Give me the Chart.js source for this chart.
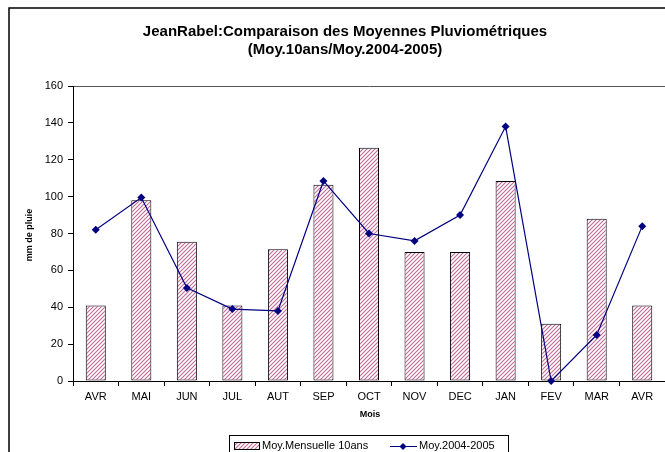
<!DOCTYPE html>
<html>
<head>
<meta charset="utf-8">
<script src="https://cdn.jsdelivr.net/npm/chart.js@4"></script>
<style>
  html, body { margin: 0; padding: 0; background: #fff; }
  #wrap { width: 665px; height: 452px; position: relative; }
</style>
</head>
<body>
<div id="wrap"><canvas id="pluieChart" width="665" height="452"></canvas></div>
<script>
// données
const mois = ['AVR', 'MAI', 'JUN', 'JUL', 'AUT', 'SEP', 'OCT', 'NOV', 'DEC', 'JAN', 'FEV', 'MAR', 'AVR'];
const moy10ans = [41, 98, 75.5, 41, 71.5, 106.5, 126.5, 70, 70, 108.5, 31, 88, 41];
const moy2004 = [82, 99.5, 50.5, 39, 38, 108.5, 80, 76, 90, 138, 0, 25, 84];
const yTicks = [0, 20, 40, 60, 80, 100, 120, 140, 160];

const FONT = "Arial, 'Liberation Sans', sans-serif";

// motif hachuré des barres
const makeHatch = () => {
  const c = document.createElement('canvas');
  c.width = 4; c.height = 4;
  const g = c.getContext('2d');
  g.fillStyle = '#fff';
  g.fillRect(0, 0, 4, 4);
  g.strokeStyle = '#c06a98';
  g.lineWidth = 1.1;
  g.beginPath();
  g.moveTo(-1, 5); g.lineTo(5, -1);
  g.moveTo(-1, 1); g.lineTo(1, -1);
  g.moveTo(3, 5); g.lineTo(5, 3);
  g.stroke();
  return g.createPattern(c, 'repeat');
};
const hatch = makeHatch();

// titres, légende, cadre
const decor = {
  id: 'decor',
  afterDraw(chart) {
    const ctx = chart.ctx;
    ctx.save();
    ctx.strokeStyle = '#000';
    ctx.lineWidth = 1.5;
    ctx.strokeRect(9, 8, 720, 520);

    ctx.fillStyle = '#000';
    ctx.textAlign = 'center';
    ctx.textBaseline = 'middle';
    ctx.font = 'bold 15px ' + FONT;
    ctx.fillText('JeanRabel:Comparaison des Moyennes Pluviométriques', 345, 32);
    ctx.fillText('(Moy.10ans/Moy.2004-2005)', 345, 50);

    ctx.font = 'bold 9px ' + FONT;
    ctx.fillText('Mois', 370, 415);
    ctx.save();
    ctx.translate(30, 235);
    ctx.rotate(-Math.PI / 2);
    ctx.fillText('mm de pluie', 0, 0);
    ctx.restore();

    // légende
    ctx.lineWidth = 1;
    ctx.strokeRect(229.5, 435.5, 279, 20);
    ctx.fillStyle = hatch;
    ctx.fillRect(234, 443, 25, 6);
    ctx.strokeRect(234.5, 442.5, 25, 7);
    ctx.fillStyle = '#000';
    ctx.textAlign = 'left';
    ctx.font = '11px ' + FONT;
    ctx.fillText('Moy.Mensuelle 10ans', 262, 446);
    ctx.strokeStyle = '#000080';
    ctx.beginPath();
    ctx.moveTo(390, 446.5); ctx.lineTo(417, 446.5);
    ctx.stroke();
    ctx.fillStyle = '#000080';
    ctx.beginPath();
    ctx.moveTo(403, 443); ctx.lineTo(406.5, 446.5); ctx.lineTo(403, 450); ctx.lineTo(399.5, 446.5);
    ctx.closePath(); ctx.fill();
    ctx.fillStyle = '#000';
    ctx.fillText('Moy.2004-2005', 419, 446);
    ctx.restore();
  }
};

new Chart(document.getElementById('pluieChart'), {
  type: 'bar',
  data: {
    labels: mois,
    datasets: [{
      type: 'line',
      label: 'Moy.2004-2005',
      data: moy2004,
      borderColor: '#000080',
      backgroundColor: '#000080',
      borderWidth: 1.2,
      pointStyle: 'rectRot',
      pointRadius: 4,
      pointBorderWidth: 0,
      tension: 0,
      clip: false,
      order: 0
    }, {
      label: 'Moy.Mensuelle 10ans',
      data: moy10ans,
      backgroundColor: hatch,
      borderColor: '#000',
      borderWidth: 1,
      borderSkipped: false,
      categoryPercentage: 0.44,
      barPercentage: 1,
      order: 1
    }]
  },
  options: {
    responsive: false,
    animation: false,
    layout: { autoPadding: false, padding: { top: 86, right: 0, bottom: 0, left: 0 } },
    plugins: { legend: { display: false }, title: { display: false }, tooltip: { enabled: false } },
    scales: {
      x: {
        offset: true,
        afterFit: (s) => { s.height = 71; s.paddingRight = 0; s.paddingLeft = 0; },
        grid: { offset: true, drawOnChartArea: false, tickLength: 5, tickColor: '#000' },
        border: { color: '#000', width: 1 },
        ticks: { color: '#000', font: { family: FONT, size: 11 }, padding: 4, maxRotation: 0, autoSkip: false }
      },
      y: {
        min: 0,
        max: 160,
        afterFit: (s) => { s.width = 73; s.paddingTop = 0; s.paddingBottom = 0; },
        afterBuildTicks: (s) => { s.ticks = yTicks.map(v => ({ value: v })); },
        grid: {
          color: (c) => (c.tick && c.tick.value === 160 ? '#555' : 'rgba(0,0,0,0)'),
          tickColor: '#000',
          tickLength: 5
        },
        border: { color: '#000', width: 1 },
        ticks: { color: '#000', font: { family: FONT, size: 11 }, padding: 5 }
      }
    }
  },
  plugins: [decor]
});
</script>
</body>
</html>
